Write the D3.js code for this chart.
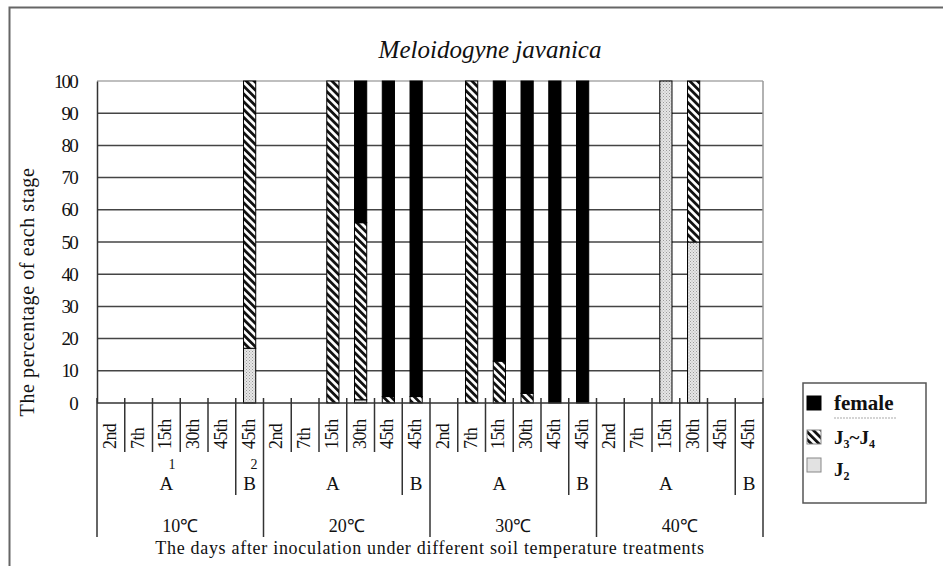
<!DOCTYPE html>
<html>
<head>
<meta charset="utf-8">
<script src="https://cdn.jsdelivr.net/npm/d3@7"></script>
<style>
  body { margin: 0; background: #fff; }
  svg text { font-family: "Liberation Serif", "Times New Roman", serif; fill: #111; }
</style>
</head>
<body>
<div id="chart"></div>
<script>
// Data
const temps = ['10℃', '20℃', '30℃', '40℃'];
const days = ['2nd', '7th', '15th', '30th', '45th', '45th'];
const groups = ['A', 'A', 'A', 'A', 'A', 'B'];
const female = [0, 0, 0, 0, 0, 0,   0, 0, 0, 44, 98, 98,   0, 0, 87, 97, 100, 100,   0, 0, 0, 0, 0, 0];
const j3j4 =   [0, 0, 0, 0, 0, 83,  0, 0, 100, 55, 2, 2,   0, 100, 13, 3, 0, 0,      0, 0, 0, 50, 0, 0];
const j2 =     [0, 0, 0, 0, 0, 17,  0, 0, 0, 1, 0, 0,      0, 0, 0, 0, 0, 0,         0, 0, 100, 50, 0, 0];
const yTicks = [0, 10, 20, 30, 40, 50, 60, 70, 80, 90, 100];

const width = 943, height = 566;
const plot = { left: 97, right: 763, top: 81, bottom: 403 };

const rows = [];
temps.forEach((t, ti) => days.forEach((d, di) => {
  const i = ti * days.length + di;
  rows.push({ id: String(i), temp: t, day: d, group: groups[di], j2: j2[i], j3j4: j3j4[i], female: female[i] });
}));

const svg = d3.select('#chart').append('svg')
  .attr('width', width)
  .attr('height', height);

// patterns
const defs = svg.append('defs');
const hatch = defs.append('pattern')
  .attr('id', 'hatch')
  .attr('patternUnits', 'userSpaceOnUse')
  .attr('width', 5.5).attr('height', 5.5)
  .attr('patternTransform', 'rotate(-45)');
hatch.append('rect').attr('width', 5.5).attr('height', 5.5).attr('fill', '#fff');
hatch.append('rect').attr('width', 2.8).attr('height', 5.5).attr('fill', '#111');

const dots = defs.append('pattern')
  .attr('id', 'dots')
  .attr('patternUnits', 'userSpaceOnUse')
  .attr('width', 3).attr('height', 3);
dots.append('rect').attr('width', 3).attr('height', 3).attr('fill', '#e6e6e6');
dots.append('rect').attr('width', 1).attr('height', 1).attr('fill', '#999');
dots.append('rect').attr('x', 1.5).attr('y', 1.5).attr('width', 1).attr('height', 1).attr('fill', '#aaa');

// outer frame
svg.append('rect')
  .attr('x', 9.5).attr('y', 7.5)
  .attr('width', 960).attr('height', 620)
  .attr('fill', 'none')
  .attr('stroke', '#666')
  .attr('stroke-width', 2);

const ids = rows.map(d => d.id);
const cell = d3.scaleBand().domain(ids).range([plot.left, plot.right]);
const x = d3.scaleBand().domain(ids).range([plot.left, plot.right])
  .paddingInner(0.56).paddingOuter(0.28);
const y = d3.scaleLinear().domain([0, 100]).range([plot.bottom, plot.top]);

// gridlines
svg.append('g')
  .selectAll('line')
  .data(yTicks.filter(t => t > 0))
  .join('line')
  .attr('x1', plot.left).attr('x2', plot.right)
  .attr('y1', d => y(d)).attr('y2', d => y(d))
  .attr('stroke', d => d === 100 ? '#aaa' : '#444')
  .attr('stroke-width', 1.5);

// right border of plot
svg.append('line')
  .attr('x1', plot.right).attr('x2', plot.right)
  .attr('y1', plot.top).attr('y2', plot.bottom)
  .attr('stroke', '#999').attr('stroke-width', 1.5);

// y axis
const yAxis = svg.append('g')
  .attr('transform', `translate(${plot.left},0)`)
  .call(d3.axisLeft(y).tickValues(yTicks).tickSize(0).tickPadding(20));
yAxis.select('.domain').attr('stroke', '#333').attr('stroke-width', 1.5);
yAxis.selectAll('text')
  .attr('font-size', 19)
  .attr('letter-spacing', -1.8)
  .attr('fill', '#111');

// stacked bars
const stack = d3.stack().keys(['j2', 'j3j4', 'female']);
const series = stack(rows);
const fills = { j2: 'url(#dots)', j3j4: 'url(#hatch)', female: '#000' };

svg.append('g')
  .selectAll('g')
  .data(series)
  .join('g')
  .attr('fill', d => fills[d.key])
  .selectAll('rect')
  .data(d => d.filter(s => s[1] - s[0] > 0))
  .join('rect')
  .attr('x', d => x(d.data.id))
  .attr('width', x.bandwidth())
  .attr('y', d => y(d[1]))
  .attr('height', d => y(d[0]) - y(d[1]))
  .attr('stroke', '#000')
  .attr('stroke-width', 1);

// x axis baseline
svg.append('line')
  .attr('x1', plot.left).attr('x2', plot.right)
  .attr('y1', plot.bottom).attr('y2', plot.bottom)
  .attr('stroke', '#333').attr('stroke-width', 1.5);

// category separators, three levels
const nDays = days.length;
const bounds = d3.range(rows.length + 1).map(i => {
  let bottom = 452;
  if (i % nDays === 0) bottom = 537;
  else if (i % nDays === nDays - 1) bottom = 495;
  const xPos = i < rows.length ? cell(ids[i]) : plot.right;
  return { x: xPos, bottom };
});
svg.append('g')
  .selectAll('line')
  .data(bounds)
  .join('line')
  .attr('x1', d => d.x).attr('x2', d => d.x)
  .attr('y1', plot.bottom - 5).attr('y2', d => d.bottom)
  .attr('stroke', '#333').attr('stroke-width', 1.5);

// day labels
svg.append('g')
  .selectAll('text')
  .data(rows)
  .join('text')
  .attr('transform', d => `translate(${cell(d.id) + cell.bandwidth() / 2 + 5},449) rotate(-90)`)
  .attr('font-size', 18)
  .attr('letter-spacing', -0.6)
  .text(d => d.day);

// A / B labels
const groupLabels = [];
temps.forEach((t, ti) => {
  const start = ti * nDays;
  groupLabels.push({ label: 'A', x: (cell(ids[start]) + cell(ids[start + 4]) + cell.bandwidth()) / 2 });
  groupLabels.push({ label: 'B', x: cell(ids[start + 5]) + cell.bandwidth() / 2 });
});
svg.append('g')
  .selectAll('text')
  .data(groupLabels)
  .join('text')
  .attr('x', d => d.x)
  .attr('y', 490)
  .attr('text-anchor', 'middle')
  .attr('font-size', 19)
  .text(d => d.label);

// footnote marks
svg.append('text').attr('x', 172).attr('y', 469).attr('text-anchor', 'middle').attr('font-size', 14).text('1');
svg.append('text').attr('x', 254).attr('y', 469).attr('text-anchor', 'middle').attr('font-size', 14).text('2');

// temperature labels
svg.append('g')
  .selectAll('text')
  .data(temps)
  .join('text')
  .attr('x', (d, i) => (cell(ids[i * nDays]) + cell(ids[i * nDays + nDays - 1]) + cell.bandwidth()) / 2)
  .attr('y', 532)
  .attr('text-anchor', 'middle')
  .attr('font-size', 18)
  .text(d => d);

// axis titles
svg.append('text')
  .attr('x', (plot.left + plot.right) / 2)
  .attr('y', 554)
  .attr('text-anchor', 'middle')
  .attr('font-size', 18)
  .attr('letter-spacing', 0.7)
  .text('The days after inoculation under different soil temperature treatments');

svg.append('text')
  .attr('transform', 'translate(34,292) rotate(-90)')
  .attr('text-anchor', 'middle')
  .attr('font-size', 20)
  .attr('letter-spacing', 0.6)
  .text('The percentage of each stage');

// title
svg.append('text')
  .attr('x', 490)
  .attr('y', 58)
  .attr('text-anchor', 'middle')
  .attr('font-size', 25)
  .attr('font-style', 'italic')
  .text('Meloidogyne javanica');

// legend
const legend = svg.append('g');
legend.append('rect')
  .attr('x', 803).attr('y', 383)
  .attr('width', 123).attr('height', 120)
  .attr('fill', '#fff')
  .attr('stroke', '#555')
  .attr('stroke-width', 1.5);

const legendItems = [
  { key: 'female', y: 403 },
  { key: 'j3j4', y: 437 },
  { key: 'j2', y: 465 }
];
legend.selectAll('rect.sw')
  .data(legendItems)
  .join('rect')
  .attr('class', 'sw')
  .attr('x', 807).attr('y', d => d.y - 7)
  .attr('width', 14).attr('height', 14)
  .attr('fill', d => d.key === 'j2' ? '#e2e2e2' : fills[d.key])
  .attr('stroke', d => d.key === 'female' ? '#000' : '#888')
  .attr('stroke-width', 1);

legend.append('text')
  .attr('x', 834).attr('y', 410)
  .attr('font-size', 21).attr('font-weight', 'bold')
  .text('female');
legend.append('line')
  .attr('x1', 834).attr('x2', 897)
  .attr('y1', 418).attr('y2', 418)
  .attr('stroke', '#aaa').attr('stroke-width', 1.2)
  .attr('stroke-dasharray', '2,1');

const j34 = legend.append('text')
  .attr('x', 834).attr('y', 444)
  .attr('font-size', 19).attr('font-weight', 'bold');
j34.append('tspan').text('J');
j34.append('tspan').attr('font-size', 12).attr('dy', 4).text('3');
j34.append('tspan').attr('dy', -4).text('~J');
j34.append('tspan').attr('font-size', 12).attr('dy', 4).text('4');

const jj2 = legend.append('text')
  .attr('x', 834).attr('y', 476)
  .attr('font-size', 19).attr('font-weight', 'bold');
jj2.append('tspan').text('J');
jj2.append('tspan').attr('font-size', 12).attr('dy', 4).text('2');
</script>
</body>
</html>
